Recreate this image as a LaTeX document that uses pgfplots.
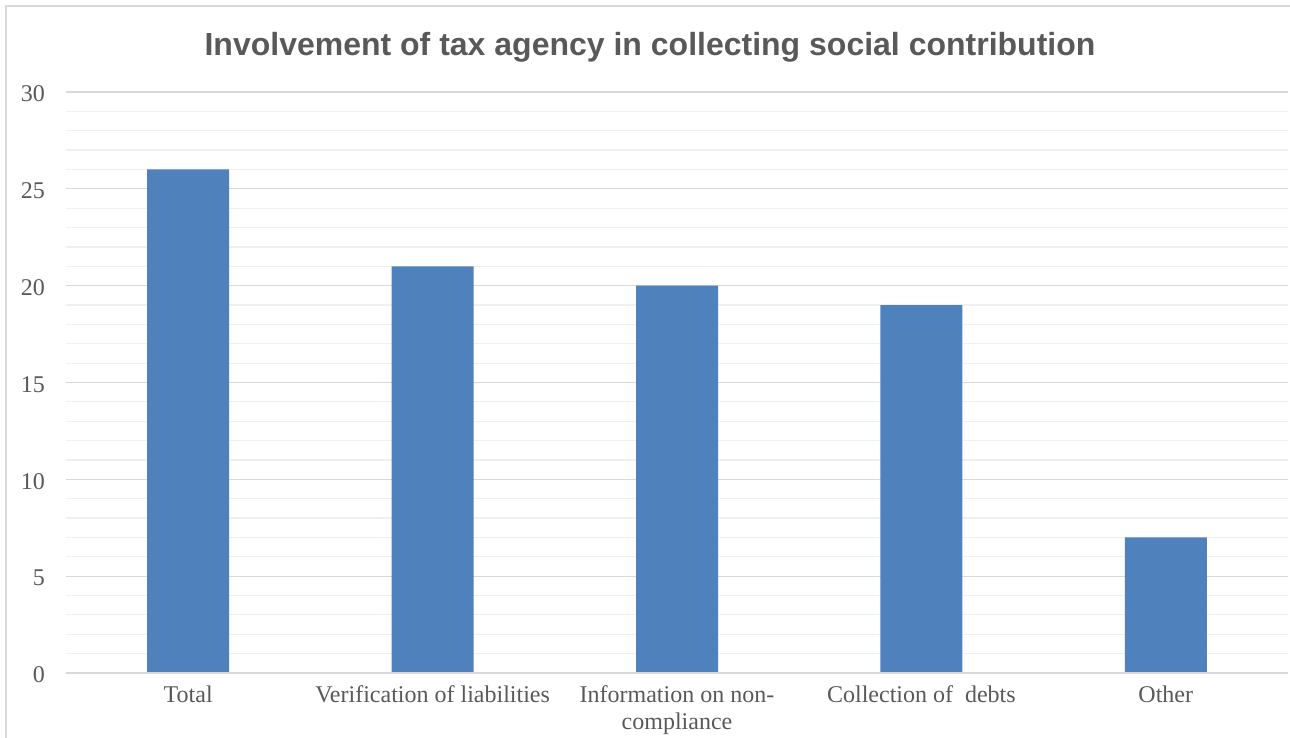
\documentclass[border=0pt]{standalone}
\usepackage{pgfplots}
\pgfplotsset{compat=1.18}
\usepackage{fontspec}
\setmainfont{Liberation Serif}
\newfontfamily\titlefont{Liberation Sans}
\definecolor{barblue}{HTML}{4F81BD}
\definecolor{txtgray}{HTML}{595959}
\definecolor{majgrid}{HTML}{D9D9D9}
\definecolor{mingrid}{HTML}{F0F0F0}
\begin{document}
\begin{tikzpicture}
\useasboundingbox (-33pt,-32.5pt) rectangle (612pt,336.5pt);
\begin{axis}[
  at={(0,0)}, anchor=south west,
  scale only axis,
  width=611pt, height=290.5pt,
  xmin=-0.5, xmax=4.5,
  ymin=0, ymax=30,
  ytick={0,5,...,30},
  minor y tick num=4,
  xtick=data,
  xticklabels={Total,Verification of liabilities,{Information on non-\\compliance},Collection of\ \ debts,Other},
  xticklabel style={align=center, font=\fontsize{12}{13.5}\selectfont, text=txtgray, yshift=-3pt},
  yticklabel style={font=\fontsize{12}{14}\selectfont, text=txtgray, xshift=-7pt, yshift=-1pt},
  /pgf/number format/assume math mode=true,
  major tick length=0pt, minor tick length=0pt,
  ymajorgrids, yminorgrids,
  major grid style={majgrid, line width=0.6pt},
  minor grid style={mingrid, line width=0.6pt},
  axis line style={draw=none},
  ybar, bar width=41pt,
  clip=false,
]
\addplot[fill=barblue, draw=none] coordinates {(0,26) (1,21) (2,20) (3,19) (4,7)};
\draw[majgrid, line width=0.8pt] (rel axis cs:0,0) -- (rel axis cs:1,0);
\end{axis}
\draw[majgrid, line width=0.8pt] (-30pt,-40pt) -- (-30pt,333.5pt) -- (620pt,333.5pt);
\node[font=\titlefont\bfseries\fontsize{16}{18}\selectfont, text=txtgray] at (292pt,313pt) {Involvement of tax agency in collecting social contribution};
\end{tikzpicture}
\end{document}
